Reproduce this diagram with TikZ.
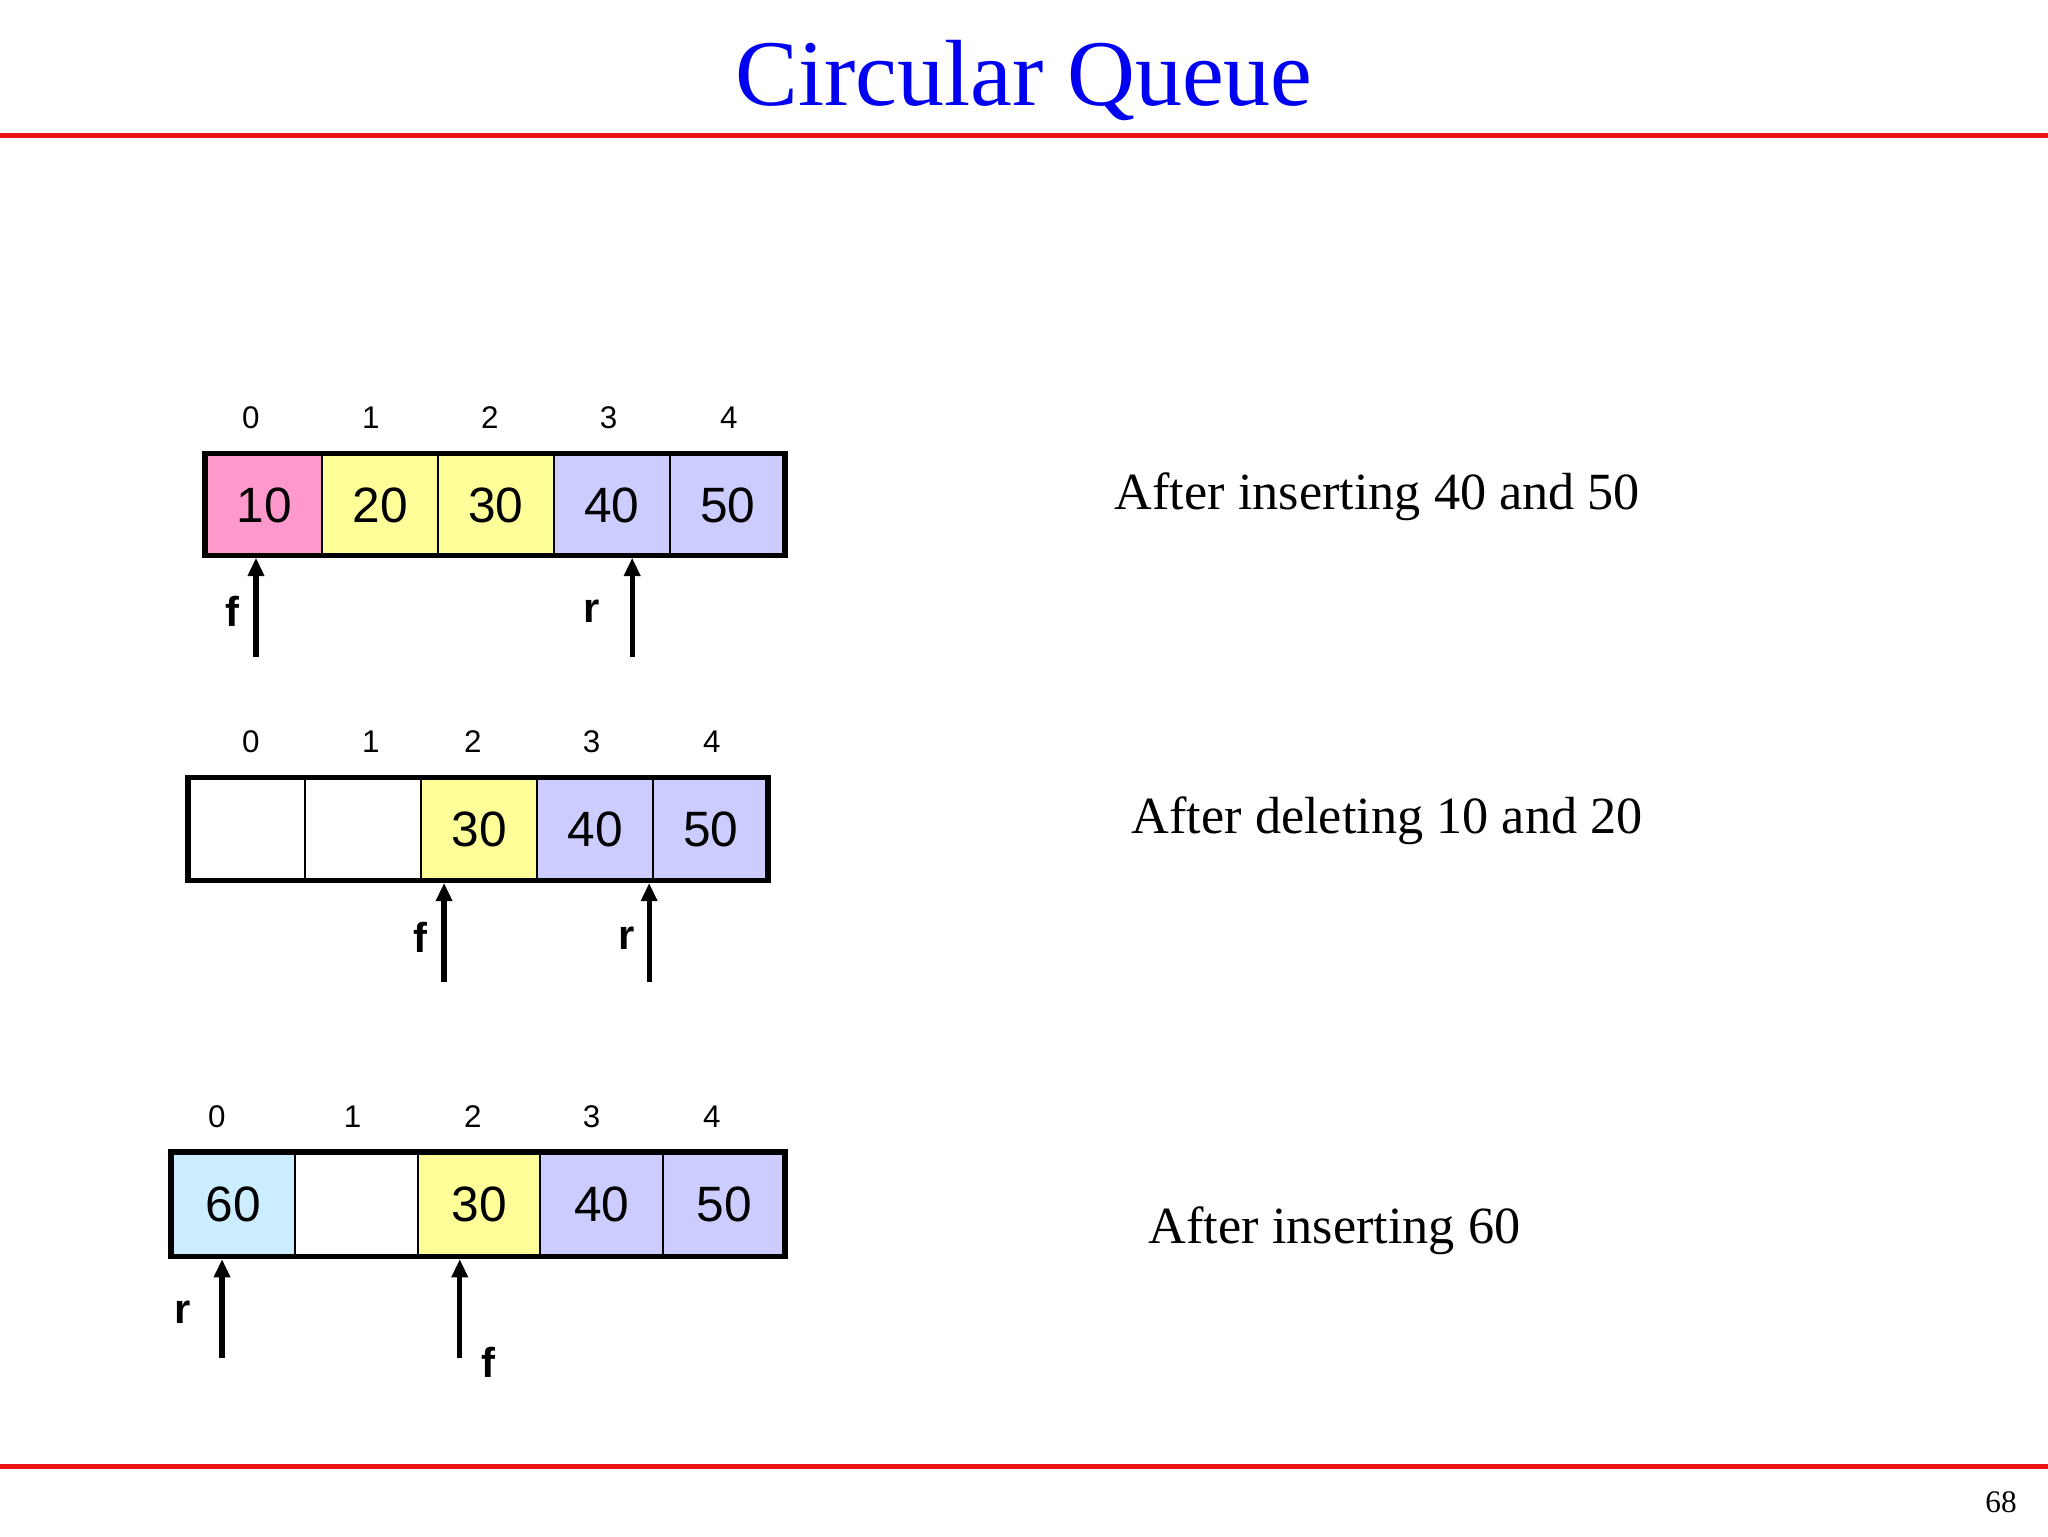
\documentclass[tikz,border=0pt]{standalone}
\usepackage{fontspec}
\setmainfont{Liberation Serif}
\setsansfont{Liberation Sans}
\usetikzlibrary{arrows.meta}
\definecolor{cpink}{RGB}{255,153,204}
\definecolor{cyel}{RGB}{255,255,153}
\definecolor{clav}{RGB}{204,204,255}
\definecolor{cblue}{RGB}{204,236,255}
\definecolor{tblue}{RGB}{0,0,240}
\definecolor{lred}{RGB}{235,20,20}
\tikzset{
 cell/.style={draw=black,line width=1.5pt,minimum height=78pt,inner sep=0pt,font=\sffamily\fontsize{38}{40}\selectfont,anchor=north west},
 idx/.style={font=\sffamily\fontsize{24}{26}\selectfont},
 lab/.style={font=\sffamily\bfseries\fontsize{32}{34}\selectfont},
 captext/.style={font=\fontsize{40}{44}\selectfont,anchor=west},
 ptr/.style={line width=4pt,-{Triangle[length=14pt,width=12pt]}},
 outer/.style={draw=black,line width=4pt}
}
\begin{document}
\begin{tikzpicture}[x=1pt,y=-1pt]
\useasboundingbox (0,0) rectangle (1568,1176);
\draw[lred,line width=4pt] (0,104) -- (1568,104);
\draw[lred,line width=4pt] (0,1123) -- (1568,1123);
\node[text=tblue,font=\fontsize{72}{76}\selectfont] (title) at (784,62) {Circular Queue};
\node[font=\fontsize{24}{26}\selectfont] (pg) at (1532,1150) {68};
% array 1
\foreach \i/\c/\t in {0/cpink/10,1/cyel/20,2/cyel/30,3/clav/40,4/clav/50}
 \node[cell,fill=\c,minimum width=88.8pt] (a\i) at (157+88.8*\i,347) {\t};
\draw[outer] (157,347) rectangle (601,425);
\foreach \i/\x in {0/192,1/284,2/375,3/466,4/558} \node[idx] (ai\i) at (\x,320) {\i};
\coordinate (af0) at (196,503); \coordinate (af1) at (196,427);
\coordinate (ar0) at (484,503); \coordinate (ar1) at (484,427);
\draw[ptr] (af0) -- (af1); \draw[ptr] (ar0) -- (ar1);
\node[lab] (afl) at (178,468) {f}; \node[lab] (arl) at (453,468) {r};
\node[captext] (c1) at (850,380) {After inserting 40 and 50};
% array 2
\foreach \i/\c/\t in {0/white/{},1/white/{},2/cyel/30,3/clav/40,4/clav/50}
 \node[cell,fill=\c,minimum width=88.8pt] (b\i) at (144+88.8*\i,595) {\t};
\draw[outer] (144,595) rectangle (588,674);
\foreach \i/\x in {0/192,1/284,2/362,3/453,4/545} \node[idx] (bi\i) at (\x,568) {\i};
\coordinate (bf0) at (340,752); \coordinate (bf1) at (340,676);
\coordinate (br0) at (497,752); \coordinate (br1) at (497,676);
\draw[ptr] (bf0) -- (bf1); \draw[ptr] (br0) -- (br1);
\node[lab] (bfl) at (322,718) {f}; \node[lab] (brl) at (480,718) {r};
\node[captext] (c2) at (863,628) {After deleting 10 and 20};
% array 3
\foreach \i/\c/\t in {0/cblue/60,1/white/{},2/cyel/30,3/clav/40,4/clav/50}
 \node[cell,fill=\c,minimum width=94pt] (d\i) at (131+94*\i,882) {\t};
\draw[outer] (131,882) rectangle (601,962);
\foreach \i/\x in {0/166,1/270,2/362,3/453,4/545} \node[idx] (di\i) at (\x,855) {\i};
\coordinate (dr0) at (170,1040); \coordinate (dr1) at (170,964);
\coordinate (df0) at (352,1040); \coordinate (df1) at (352,964);
\draw[ptr] (dr0) -- (dr1); \draw[ptr] (df0) -- (df1);
\node[lab] (drl) at (140,1005) {r}; \node[lab] (dfl) at (374,1043) {f};
\node[captext] (c3) at (876,942) {After inserting 60};
\end{tikzpicture}
\end{document}
